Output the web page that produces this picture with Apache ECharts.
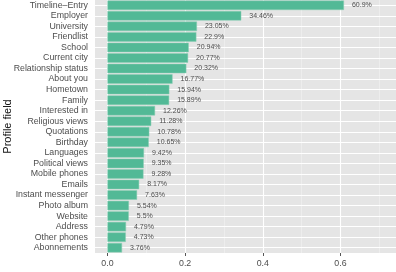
<!DOCTYPE html>
<html><head><meta charset="utf-8">
<script src="https://cdn.jsdelivr.net/npm/echarts@6/dist/echarts.min.js"></script>
<style>html,body{margin:0;padding:0;background:#fff}#c{width:396px;height:272px}</style>
</head><body><div id="c"></div>
<script>
const categories = ["Timeline\u2013Entry","Employer","University","Friendlist","School","Current city","Relationship status","About you","Hometown","Family","Interested in","Religious views","Quotations","Birthday","Languages","Political views","Mobile phones","Emails","Instant messenger","Photo album","Website","Address","Other phones","Abonnements"];
const percents = [60.9,34.46,23.05,22.9,20.94,20.77,20.32,16.77,15.94,15.89,12.26,11.28,10.78,10.65,9.42,9.35,9.28,8.17,7.63,5.54,5.5,4.79,4.73,3.76];
const xTicks = [0,0.2,0.4,0.6];
const xMinor = [0.1,0.3,0.5,0.7];
const axisTitle = "Profile field";

const font = "Liberation Sans, Arial, sans-serif";
const chart = echarts.init(document.getElementById('c'), null, {renderer:'canvas'});
chart.setOption({
  animation:false,
  grid:{left:95,right:0,top:0,bottom:19,show:true,backgroundColor:'#E5E5E5',borderWidth:0,containLabel:false,outerBoundsMode:'none'},
  xAxis:{type:'value',min:-0.032,max:0.743,
    axisLine:{show:false},
    axisTick:{show:true,length:3,customValues:xTicks,lineStyle:{color:'#555',width:1}},
    axisLabel:{customValues:xTicks,fontSize:8.8,fontFamily:font,color:'#4d4d4d',margin:6,formatter:v=>v.toFixed(1)},
    splitLine:{show:false}},
  yAxis:{type:'category',inverse:true,data:categories,
    name:axisTitle,nameLocation:'middle',nameGap:82,nameRotate:90,nameMoveOverlap:false,
    nameTextStyle:{fontSize:11,fontFamily:font,color:'#111'},
    axisLine:{show:false},
    axisTick:{show:true,alignWithLabel:true,interval:0,length:3,lineStyle:{color:'#555',width:1}},
    axisLabel:{interval:0,fontSize:8.8,fontFamily:font,color:'#4d4d4d',margin:7,hideOverlap:false},
    splitLine:{show:false}},
  series:[
    {type:'line',data:[],z:1,silent:true,
     markLine:{z:1,silent:true,symbol:'none',animation:false,label:{show:false},
       data:[
         ...xMinor.map(v=>({xAxis:v,lineStyle:{color:'#F2F2F2',width:0.6,type:'solid'}})),
         ...xTicks.map(v=>({xAxis:v,lineStyle:{color:'#FFFFFF',width:1.1,type:'solid'}})),
         ...categories.map(c=>({yAxis:c,lineStyle:{color:'#FFFFFF',width:1.1,type:'solid'}}))
       ]}},
    {type:'bar',z:3,barWidth:'90%',
     data:percents.map(p=>p/100),
     itemStyle:{color:'#52B996',borderColor:'#8ccfb5',borderWidth:0.5},
     label:{show:true,position:'right',distance:8,fontSize:7,fontFamily:font,color:'#4d4d4d',
       formatter:p=>String(+(p.value*100).toFixed(2))+'%'}}
  ]
});
</script></body></html>
